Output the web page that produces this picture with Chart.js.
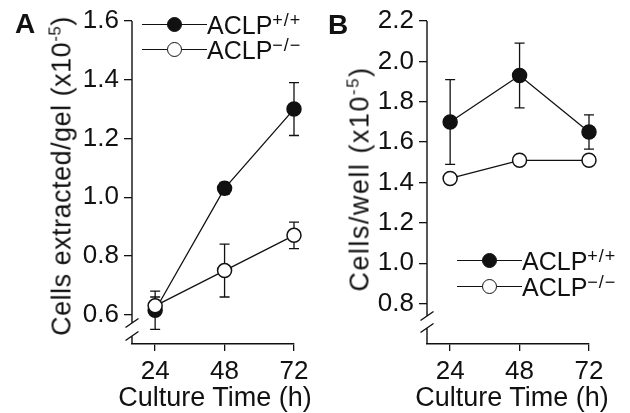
<!DOCTYPE html>
<html>
<head>
<meta charset="utf-8">
<script src="https://cdn.jsdelivr.net/npm/chart.js@4/dist/chart.umd.min.js"></script>
<style>
  body { margin: 0; background: #fff; }
  #fig { position: relative; width: 630px; height: 413px; overflow: hidden;
         font-family: 'Liberation Sans', Arial, sans-serif; color: #111; }
  .panel { position: absolute; top: 0; width: 315px; height: 413px; }
  .letter { position: absolute; font-weight: bold; font-size: 28px; line-height: 1; }
  .ytitle { position: absolute; font-size: 27px; line-height: 1; white-space: nowrap;
            transform: translate(-50%, -50%) rotate(-90deg); }
  .ytitle span { font-size: 17px; position: relative; top: -10px; }
  .xtitle { position: absolute; top: 384px; font-size: 27px; line-height: 1; white-space: nowrap;
            transform: translateX(-50%); }
  .leg { position: absolute; height: 0; }
  .leg .ln { position: absolute; left: 0; top: -0.7px; width: 65px; border-top: 1.4px solid #111; }
  .leg .mk { position: absolute; top: -8px; width: 13px; height: 13px; border-radius: 50%;
             border: 1.5px solid #111; background: #fff; }
  .leg .mk.fill { background: #111; }
  .leg .tx { position: absolute; left: 65px; top: -12px; font-size: 25px; line-height: 1; white-space: nowrap; }
  .leg .tx span { font-size: 18px; letter-spacing: 1px; position: relative; top: -8px; }
</style>
</head>
<body>
<div id="fig">
  <div class="panel" style="left:0"><canvas id="chartA"></canvas></div>
  <div class="panel" style="left:315px"><canvas id="chartB"></canvas></div>

  <div class="letter" style="left:15px; top:10px">A</div>
  <div class="letter" style="left:328px; top:11px">B</div>

  <div class="ytitle" style="left:62px; top:176px; letter-spacing:0.5px">Cells extracted/gel (x10<span>-5</span>)</div>
  <div class="ytitle" style="left:360px; top:179px; letter-spacing:1.5px">Cells/well (x10<span>-5</span>)</div>

  <div class="xtitle" style="left:215px">Culture Time (h)</div>
  <div class="xtitle" style="left:512px">Culture Time (h)</div>

  <div class="leg" style="left:142px; top:25px"><div class="ln"></div><div class="mk fill" style="left:25px"></div><div class="tx">ACLP<span>+/+</span></div></div>
  <div class="leg" style="left:142px; top:50px"><div class="ln"></div><div class="mk" style="left:25px"></div><div class="tx">ACLP<span>−/−</span></div></div>
  <div class="leg" style="left:457px; top:261px"><div class="ln"></div><div class="mk fill" style="left:25px"></div><div class="tx">ACLP<span>+/+</span></div></div>
  <div class="leg" style="left:457px; top:287px"><div class="ln"></div><div class="mk" style="left:25px"></div><div class="tx">ACLP<span>−/−</span></div></div>
</div>

<script>
// culture time points (h)
const hours = [24, 48, 72];
const xTicks = [24, 48, 72];

// panel A: cells extracted per gel (x10^-5)
const aWild = [0.615, 1.03, 1.30];
const aWildErr = [0.065, 0.02, 0.09];
const aNull = [0.63, 0.75, 0.87];
const aNullErr = [0.03, 0.09, 0.045];
const aYTicks = [0.6, 0.8, 1.0, 1.2, 1.4, 1.6];

// panel B: cells per well (x10^-5)
const bWild = [1.70, 1.93, 1.65];
const bWildErr = [0.21, 0.16, 0.085];
const bNull = [1.42, 1.51, 1.51];
const bNullErr = [0, 0, 0];
const bYTicks = [0.8, 1.0, 1.2, 1.4, 1.6, 1.8, 2.0, 2.2];

const ink = '#111';
const font = { family: "'Liberation Sans', Arial, sans-serif", size: 26 };

const errorBars = {
  id: 'errorBars',
  beforeDatasetsDraw(chart) {
    const { ctx, scales: { x, y } } = chart;
    ctx.save();
    ctx.strokeStyle = ink;
    ctx.lineWidth = 1.3;
    chart.data.datasets.forEach(ds => {
      ds.data.forEach((p, i) => {
        const e = ds.errors[i];
        if (!e) return;
        const px = x.getPixelForValue(p.x);
        const lo = y.getPixelForValue(p.y - e);
        const hi = y.getPixelForValue(p.y + e);
        ctx.beginPath();
        ctx.moveTo(px, lo); ctx.lineTo(px, hi);
        ctx.moveTo(px - 5, lo); ctx.lineTo(px + 5, lo);
        ctx.moveTo(px - 5, hi); ctx.lineTo(px + 5, hi);
        ctx.stroke();
      });
    });
    ctx.restore();
  }
};

// y axis line with the little "//" break near the bottom
const axisBreak = {
  id: 'axisBreak',
  afterDraw(chart, args, opts) {
    const { ctx, chartArea: { left, top, bottom } } = chart;
    const y1 = bottom - opts.upper, y2 = bottom - opts.lower;
    ctx.save();
    ctx.strokeStyle = ink;
    ctx.lineWidth = 1.4;
    ctx.beginPath();
    ctx.moveTo(left, top); ctx.lineTo(left, y1);
    ctx.moveTo(left, y2); ctx.lineTo(left, bottom);
    [y1, y2].forEach(y => {
      ctx.moveTo(left - 6.5, y + 4.5);
      ctx.lineTo(left + 6.5, y - 4.5);
    });
    ctx.stroke();
    ctx.restore();
  }
};

function series(vals, errs, filled, order) {
  return {
    data: hours.map((h, i) => ({ x: h, y: vals[i] })),
    errors: errs,
    borderColor: ink,
    borderWidth: 1.3,
    pointRadius: 7,
    pointBorderWidth: 1.5,
    pointBackgroundColor: filled ? ink : '#fff',
    pointBorderColor: ink,
    clip: false,
    order: order
  };
}

function makeChart(id, wild, wildErr, nul, nulErr, yMin, yMax, yTicks, yWidth, padRight, brk) {
  return new Chart(document.getElementById(id), {
    type: 'line',
    data: {
      datasets: [series(wild, wildErr, true, 2), series(nul, nulErr, false, 1)]
    },
    options: {
      responsive: true,
      maintainAspectRatio: false,
      animation: false,
      devicePixelRatio: 1,
      layout: { padding: { left: 0, top: 21, right: padRight, bottom: 0 } },
      plugins: {
        legend: { display: false },
        tooltip: { enabled: false },
        axisBreak: brk
      },
      scales: {
        x: {
          type: 'linear',
          min: 16,
          max: 72,
          afterBuildTicks: s => { s.ticks = xTicks.map(v => ({ value: v })); },
          afterFit: s => { s.height = 69; },
          border: { display: true, color: ink, width: 1.4 },
          grid: { drawOnChartArea: false, drawTicks: true, tickLength: 7, color: ink, lineWidth: 1.3 },
          ticks: { color: ink, font: font, padding: 5, maxRotation: 0 }
        },
        y: {
          min: yMin,
          max: yMax,
          afterBuildTicks: s => { s.ticks = yTicks.map(v => ({ value: v })); },
          afterFit: s => { s.width = yWidth; },
          border: { display: false },
          grid: { drawOnChartArea: false, drawTicks: true, tickLength: 8, color: ink, lineWidth: 1.3 },
          ticks: { color: ink, font: font, padding: 5, callback: v => v.toFixed(1) }
        }
      }
    },
    plugins: [errorBars, axisBreak]
  });
}

makeChart('chartA', aWild, aWildErr, aNull, aNullErr, 0.5, 1.6, aYTicks, 132, 21, { upper: 21, lower: 8 });
makeChart('chartB', bWild, bWildErr, bNull, bNullErr, 0.6, 2.2, bYTicks, 112, 41, { upper: 28, lower: 16 });
</script>
</body>
</html>
